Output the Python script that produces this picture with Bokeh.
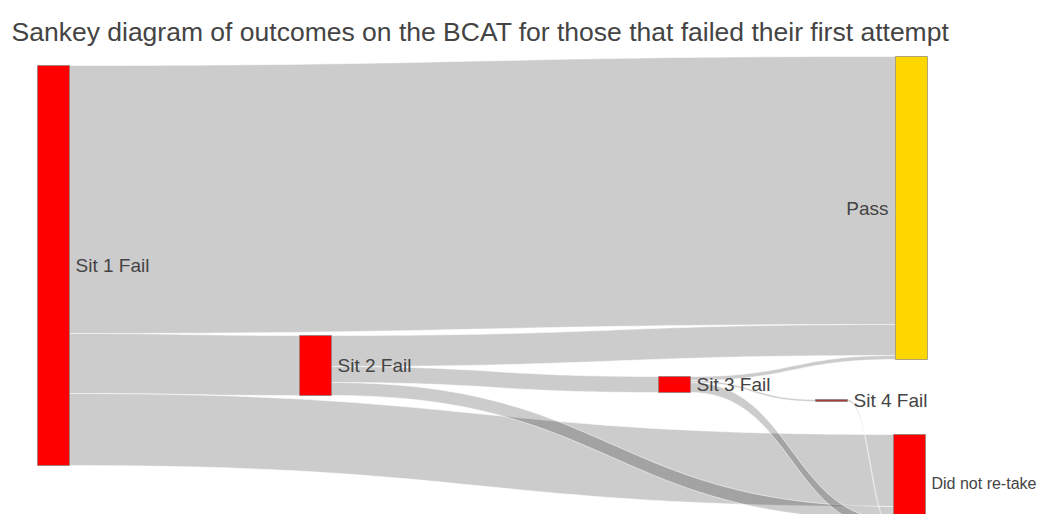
import numpy as np
from bokeh.plotting import figure
from bokeh.models import Range1d, Label
from bokeh.embed import file_html
from bokeh.resources import INLINE

# ---------------- data ----------------
node_names = ["Sit 1 Fail", "Sit 2 Fail", "Sit 3 Fail", "Sit 4 Fail", "Pass", "Did not re-take"]
node_colors = ["#ff0000", "#ff0000", "#ff0000", "#a83a3a", "#ffd700", "#ff0000"]

link_source = [0, 0, 0, 1, 1, 1, 2, 2, 2, 3]
link_target = [4, 1, 5, 4, 2, 5, 4, 3, 5, 5]
link_value = [268, 60, 72, 31, 16, 13, 4, 2, 10, 2]

title_text = "Sankey diagram of outcomes on the BCAT for those that failed their first attempt"

# ---------------- layout (arrangement of the diagram) ----------------
W, H = 1040, 514
node_left = [37, 299, 658, 815, 895, 893]
node_top = [65, 335, 376, 399, 56, 434]
label_side = ["right", "right", "right", "right", "left", "right"]
label_size = ["19px", "19px", "19px", "19px", "19px", "16px"]
NODE_W = 32
K = 1.0  # pixels per unit of value

n = len(node_names)
val_in = np.zeros(n)
val_out = np.zeros(n)
for s, t, v in zip(link_source, link_target, link_value):
    val_out[s] += v
    val_in[t] += v
node_val = np.maximum(val_in, val_out)
node_h = node_val * K
node_bot = [node_top[i] + node_h[i] for i in range(n)]
node_cy = [node_top[i] + node_h[i] / 2 for i in range(n)]

# link stacking order at each node
out_off = {}
in_off = {}
for i in range(n):
    outs = [j for j in range(len(link_value)) if link_source[j] == i]
    outs.sort(key=lambda j: node_cy[link_target[j]])
    y = node_top[i]
    for j in outs:
        out_off[j] = y
        y += link_value[j] * K
    ins = [j for j in range(len(link_value)) if link_target[j] == i]
    ins.sort(key=lambda j: node_cy[link_source[j]])
    y = node_top[i]
    for j in ins:
        in_off[j] = y
        y += link_value[j] * K

tt = np.linspace(0, 1, 60)


def bez(p0, p1, p2, p3):
    return ((1 - tt) ** 3) * p0 + 3 * ((1 - tt) ** 2) * tt * p1 + 3 * (1 - tt) * tt ** 2 * p2 + tt ** 3 * p3


xs, ys = [], []
for j in range(len(link_value)):
    s, t = link_source[j], link_target[j]
    x0 = node_left[s] + NODE_W
    x1 = node_left[t]
    xm = (x0 + x1) / 2
    h = link_value[j] * K
    y0t, y1t = out_off[j], in_off[j]
    y0b, y1b = y0t + h, y1t + h
    top_x = bez(x0, xm, xm, x1)
    top_y = bez(y0t, y0t, y1t, y1t)
    bot_x = bez(x1, xm, xm, x0)
    bot_y = bez(y1b, y1b, y0b, y0b)
    xs.append(np.concatenate([top_x, bot_x]).tolist())
    ys.append(np.concatenate([top_y, bot_y]).tolist())

p = figure(width=W, height=H, output_backend="svg", toolbar_location=None,
           x_range=Range1d(0, W), y_range=Range1d(H, 0), min_border=0)
p.axis.visible = False
p.grid.visible = False
p.outline_line_color = None
p.background_fill_color = "white"
p.border_fill_color = "white"

p.patches(xs, ys, fill_color="black", fill_alpha=0.2, line_color="white", line_width=0.6, line_alpha=0.9)

p.quad(left=node_left, right=[x + NODE_W for x in node_left], top=node_top, bottom=node_bot,
       fill_color=node_colors, line_color="#777777", line_width=0.6)

FONT = "Liberation Sans"
for i in range(n):
    if label_side[i] == "right":
        lx, align = node_left[i] + NODE_W + 6, "left"
    else:
        lx, align = node_left[i] - 7, "right"
    p.add_layout(Label(x=lx, y=node_cy[i], text=node_names[i], text_align=align,
                       text_baseline="middle", text_font=FONT, text_font_size=label_size[i],
                       text_color="#444444"))

p.add_layout(Label(x=11, y=31, text=title_text, text_align="left", text_baseline="alphabetic",
                   text_font=FONT, text_font_size="26.5px", text_color="#444444"))

open("out.html", "w").write(file_html(p, INLINE))
